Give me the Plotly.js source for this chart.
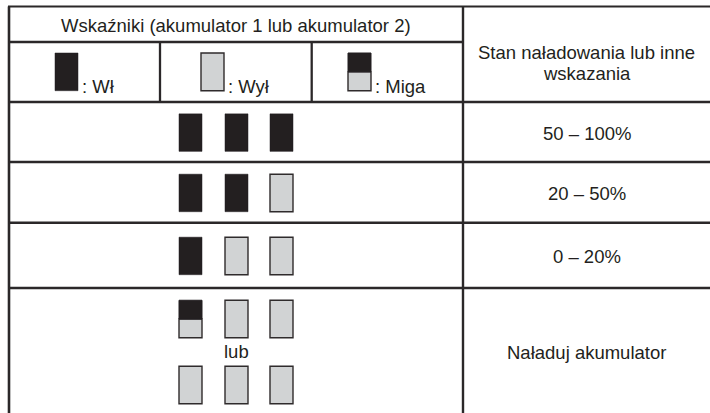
<!DOCTYPE html>
<html>
<head>
<meta charset="utf-8">
<script src="https://cdn.plot.ly/plotly-3.0.1.min.js"></script>
<style>
  html, body { margin: 0; padding: 0; background: #ffffff; }
  #chart { width: 710px; height: 413px; }
</style>
</head>
<body>
<div id="chart"></div>
<script>
// ---------- content ----------
const indicatorHeader = 'Wskaźniki (akumulator 1 lub akumulator 2)';
const statusHeaderLines = ['Stan naładowania lub inne', 'wskazania'];
const legendStates = ['on', 'off', 'blink'];
const legendLabels = [': Wł', ': Wył', ': Miga'];
const statusLabels = ['50 – 100%', '20 – 50%', '0 – 20%', 'Naładuj akumulator'];
const rowPatterns = [
  [['on', 'on', 'on']],
  [['on', 'on', 'off']],
  [['on', 'off', 'off']],
  [['blink', 'off', 'off'], ['off', 'off', 'off']]
];
const separatorText = 'lub';

// ---------- layout geometry (pixel space) ----------
const W = 710, H = 413;
const tableLeft = 9, tableTop = 6.5, colSplit = 463, headerMid = 42, headerBottom = 102;
const legendSplits = [160, 311.7];
const rowBounds = [102, 162, 222.7, 288, 413];
const ledCols = [190.5, 236.5, 281.5];
const ledW = 23, ledH = 37.5;
const groupGap = 66;
const legendBoxX = [66.5, 212.5, 359.5];
const legendBoxY = [53, 90.7];

const DARK = '#231f20';
const LIGHT = '#d1d3d4';
const LINE = '#2b2829';
const FONT = '"Liberation Sans", Arial, Helvetica, sans-serif';
const FS = 18.5;

const shapes = [];
const annotations = [];

function line(x0, y0, x1, y1, w, c) {
  shapes.push({type: 'line', xref: 'x', yref: 'y', x0, y0, x1, y1,
    line: {color: c || LINE, width: w}});
}
function led(cx, cy, state) {
  const x0 = cx - ledW / 2, x1 = cx + ledW / 2, y0 = cy - ledH / 2, y1 = cy + ledH / 2;
  ledBox(x0, x1, y0, y1, state);
}
function ledBox(x0, x1, y0, y1, state) {
  if (state === 'on') {
    shapes.push({type: 'rect', xref: 'x', yref: 'y', x0, x1, y0, y1,
      fillcolor: DARK, line: {color: DARK, width: 0.5}});
  } else if (state === 'off') {
    shapes.push({type: 'rect', xref: 'x', yref: 'y', x0, x1, y0, y1,
      fillcolor: LIGHT, line: {color: '#2f2b2c', width: 1.4}});
  } else {
    const ym = (y0 + y1) / 2;
    shapes.push({type: 'rect', xref: 'x', yref: 'y', x0, x1, y0: ym, y1,
      fillcolor: LIGHT, line: {color: '#2f2b2c', width: 1.4}});
    shapes.push({type: 'rect', xref: 'x', yref: 'y', x0, x1, y0, y1: ym,
      fillcolor: DARK, line: {color: DARK, width: 1}});
  }
}
function text(x, y, t, xanchor) {
  annotations.push({xref: 'x', yref: 'y', x, y, text: t, showarrow: false,
    xanchor: xanchor || 'center', yanchor: 'middle', borderpad: 0,
    font: {family: FONT, size: FS, color: DARK}});
}

// grid lines
line(tableLeft - 1, tableTop, W, tableTop, 2);
line(tableLeft, tableTop, tableLeft, H, 2.6);
line(colSplit, tableTop, colSplit, H, 2.4);
line(tableLeft, headerMid, colSplit, headerMid, 2.5);
legendSplits.forEach(x => line(x, headerMid, x, headerBottom, 2.3));
rowBounds.slice(0, -1).forEach(y => line(tableLeft, y, W, y, 2.6));

// header texts
text((tableLeft + colSplit) / 2, 25.5, indicatorHeader);
text((colSplit + W) / 2, 52.5, statusHeaderLines[0]);
text((colSplit + W) / 2, 73.5, statusHeaderLines[1]);

// legend
legendStates.forEach((s, i) => {
  const cx = legendBoxX[i];
  ledBox(cx - ledW / 2, cx + ledW / 2, legendBoxY[0], legendBoxY[1], s);
  text(cx + ledW / 2 + 3, 86, legendLabels[i], 'left');
});

// body rows
rowPatterns.forEach((groups, r) => {
  const mid = (rowBounds[r] + rowBounds[r + 1]) / 2;
  if (groups.length === 1) {
    groups[0].forEach((s, c) => led(ledCols[c], mid + 0.6, s));
  } else {
    const center = mid + 1.5;
    groups.forEach((g, gi) => {
      const cy = center + (gi === 0 ? -groupGap / 2 : groupGap / 2);
      g.forEach((s, c) => led(ledCols[c], cy, s));
    });
    text(ledCols[1], center - 0.5, separatorText);
  }
  text((colSplit + W) / 2, mid + 1.5, statusLabels[r]);
});

const layout = {
  width: W, height: H,
  margin: {l: 0, r: 0, t: 0, b: 0, pad: 0},
  paper_bgcolor: '#ffffff', plot_bgcolor: '#ffffff',
  showlegend: false,
  xaxis: {range: [0, W], visible: false, fixedrange: true},
  yaxis: {range: [H, 0], visible: false, fixedrange: true},
  shapes, annotations
};

Plotly.newPlot('chart', [{type: 'scatter', x: [], y: [], hoverinfo: 'skip'}], layout,
  {staticPlot: true, displayModeBar: false});
</script>
</body>
</html>
